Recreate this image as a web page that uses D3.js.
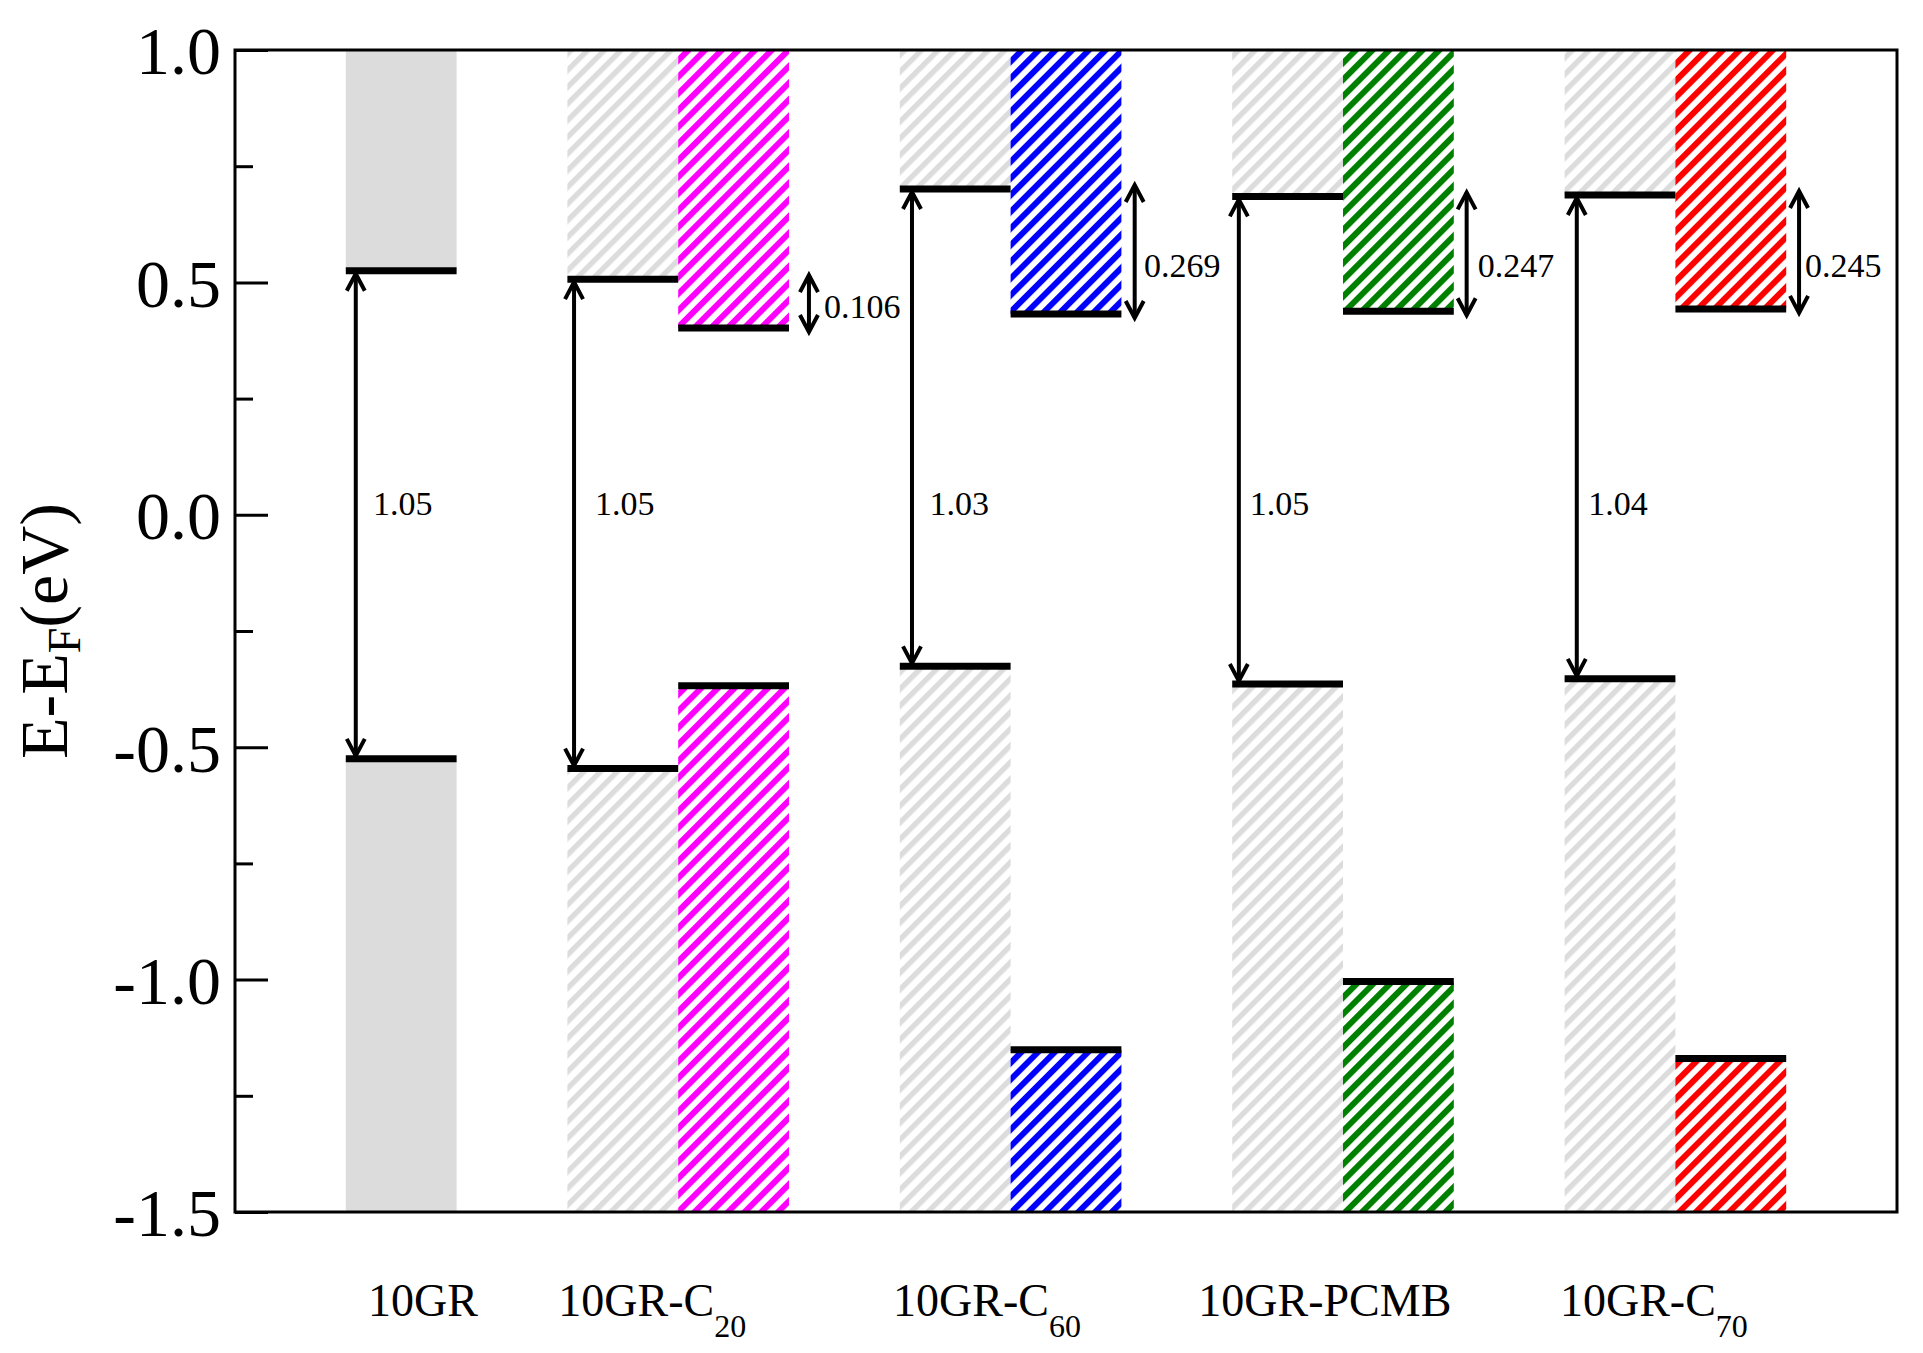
<!DOCTYPE html>
<html><head><meta charset="utf-8">
<script src="https://cdn.jsdelivr.net/npm/d3@7"></script>
<style>
body{margin:0;background:#fff}
svg{display:block}
text, tspan{font-family:"Liberation Serif","Times New Roman",serif;fill:#000}
</style>
</head><body>
<svg id="chart" width="1923" height="1353"></svg>
<script>
// ---------------- DATA ----------------
const systems   = ["10GR", "10GR-C20", "10GR-C60", "10GR-PCMB", "10GR-C70"];
const labelMain = ["10GR", "10GR-C", "10GR-C", "10GR-PCMB", "10GR-C"];
const labelSub  = ["", "20", "60", "", "70"];
// graphene band edges (eV)
const grCBM = [0.525, 0.507, 0.701, 0.685, 0.688];
const grVBM = [-0.525, -0.546, -0.326, -0.364, -0.353];
// molecule levels (eV)
const molLUMO = [null, 0.402, 0.432, 0.438, 0.443];
const molHOMO = [null, -0.368, -1.151, -1.004, -1.170];
// annotated gaps
const gapGR  = ["1.05", "1.05", "1.03", "1.05", "1.04"];
const gapMol = [null, "0.106", "0.269", "0.247", "0.245"];
// y axis ticks
const yMajor = [-1.5, -1.0, -0.5, 0.0, 0.5, 1.0];
const yTickLabels = ["-1.5", "-1.0", "-0.5", "0.0", "0.5", "1.0"];
const yMinor = [-1.25, -0.75, -0.25, 0.25, 0.75];

// ---------------- LAYOUT / STYLE ----------------
const layout = {
  slotStart: [1, 3, 6, 9, 12],          // column start (x slot units)
  bigArrowX: [1.09, 3.06, 6.11, 9.06, 12.11],
  bigLabelX: [1.245, 3.249, 6.269, 9.158, 12.213],
  smallArrowX: [null, 5.18, 8.12, 11.116, 14.116],
  smallLabelX: [null, 5.316, 8.203, 11.216, 14.17],
  smallLabelY: [null, 0.424, 0.511, 0.511, 0.512],
  catLabelX: [1.2, 2.918, 5.939, 8.694, 11.958]
};
const FONT = '"Liberation Serif","Times New Roman",serif';
const molColors = [null, "#ff00ff", "#0000ff", "#008000", "#ff0000"];
const grayFill = "#dcdcdc";

const svg = d3.select("#chart");
const x = d3.scaleLinear().domain([0, 15]).range([235, 1897]);
const y = d3.scaleLinear().domain([-1.5, 1.0]).range([1212, 50]);
const [yMin, yMax] = y.domain();

// hatch patterns
const defs = svg.append("defs");
const P = 11.8;
function makeHatch(id, color, w) {
  const p = defs.append("pattern").attr("id", id)
    .attr("patternUnits", "userSpaceOnUse")
    .attr("width", P).attr("height", P)
    .attr("patternTransform", "rotate(45)");
  p.append("rect").attr("x", 0).attr("y", 0).attr("width", w).attr("height", P).attr("fill", color);
}
makeHatch("hatch-gray", grayFill, 5.4);
molColors.forEach((c, i) => { if (c) makeHatch("hatch-" + i, c, 6.0); });

const gBars = svg.append("g");
const gLev = svg.append("g");

function column(x0, top, bot, fill) {
  gBars.append("rect").attr("x", x(x0)).attr("width", x(x0 + 1) - x(x0))
    .attr("y", y(yMax)).attr("height", y(top) - y(yMax)).attr("fill", fill);
  gBars.append("rect").attr("x", x(x0)).attr("width", x(x0 + 1) - x(x0))
    .attr("y", y(bot)).attr("height", y(yMin) - y(bot)).attr("fill", fill);
  [top, bot].forEach(v => {
    gLev.append("line").attr("x1", x(x0)).attr("x2", x(x0 + 1))
      .attr("y1", y(v)).attr("y2", y(v))
      .attr("stroke", "#000").attr("stroke-width", 7);
  });
}

systems.forEach((s, i) => {
  const s0 = layout.slotStart[i];
  column(s0, grCBM[i], grVBM[i], i === 0 ? grayFill : "url(#hatch-gray)");
  if (molLUMO[i] !== null) column(s0 + 1, molLUMO[i], molHOMO[i], "url(#hatch-" + i + ")");
});

// arrows
const gArr = svg.append("g").attr("stroke", "#000").attr("fill", "none")
  .attr("stroke-width", 4).attr("stroke-linecap", "butt");
function dblArrow(px, yTop, yBot) {
  const hl = 17, hw = 9;
  gArr.append("line").attr("x1", px).attr("x2", px).attr("y1", yTop).attr("y2", yBot);
  gArr.append("path").attr("d", `M${px - hw},${yTop + hl} L${px},${yTop} L${px + hw},${yTop + hl}`);
  gArr.append("path").attr("d", `M${px - hw},${yBot - hl} L${px},${yBot} L${px + hw},${yBot - hl}`);
}
systems.forEach((s, i) => {
  dblArrow(x(layout.bigArrowX[i]), y(grCBM[i]) + 3, y(grVBM[i]) - 3);
  svg.append("text").attr("x", x(layout.bigLabelX[i])).attr("y", y(0))
    .style("font-family", FONT).style("font-size", "34px").text(gapGR[i]);
  if (gapMol[i] !== null) {
    dblArrow(x(layout.smallArrowX[i]), y(grCBM[i]) - 4, y(molLUMO[i]) + 4);
    svg.append("text").attr("x", x(layout.smallLabelX[i])).attr("y", y(layout.smallLabelY[i]))
      .style("font-family", FONT).style("font-size", "34px").text(gapMol[i]);
  }
});

// frame
svg.append("rect").attr("x", x(0)).attr("y", y(yMax))
  .attr("width", x(15) - x(0)).attr("height", y(yMin) - y(yMax))
  .attr("fill", "none").attr("stroke", "#000").attr("stroke-width", 3);

// y axis
const axMajor = d3.axisLeft(y).tickValues(yMajor).tickFormat((d, i) => yTickLabels[i])
  .tickSizeInner(-33).tickSizeOuter(0).tickPadding(14);
const gAx = svg.append("g").attr("transform", `translate(${x(0)},0)`).call(axMajor);
gAx.select(".domain").remove();
gAx.attr("font-family", null).attr("font-size", null);
gAx.selectAll(".tick line").attr("stroke", "#000").attr("stroke-width", 3);
gAx.selectAll(".tick text").attr("dy", "0.35em")
  .style("font-size", "68px").style("font-family", FONT).attr("fill", "#000");

const axMinor = d3.axisLeft(y).tickValues(yMinor).tickFormat("")
  .tickSizeInner(-18).tickSizeOuter(0);
const gAx2 = svg.append("g").attr("transform", `translate(${x(0)},0)`).call(axMinor);
gAx2.select(".domain").remove();
gAx2.selectAll(".tick line").attr("stroke", "#000").attr("stroke-width", 3);

// y title
const yt = svg.append("text").attr("transform", `translate(67,${(y(yMin) + y(yMax)) / 2}) rotate(-90)`)
  .attr("text-anchor", "middle").style("font-family", FONT).style("font-size", "68px");
yt.append("tspan").text("E-E");
yt.append("tspan").attr("dy", 13).style("font-size", "46px").text("F");
yt.append("tspan").attr("dy", -13).text("(eV)");

// category labels
systems.forEach((s, i) => {
  const t = svg.append("text").attr("x", x(layout.catLabelX[i])).attr("y", 1316)
    .style("font-family", FONT).style("font-size", "46px");
  t.append("tspan").text(labelMain[i]);
  if (labelSub[i]) t.append("tspan").attr("dy", 21).style("font-size", "32px").text(labelSub[i]);
});
</script>
</body></html>
